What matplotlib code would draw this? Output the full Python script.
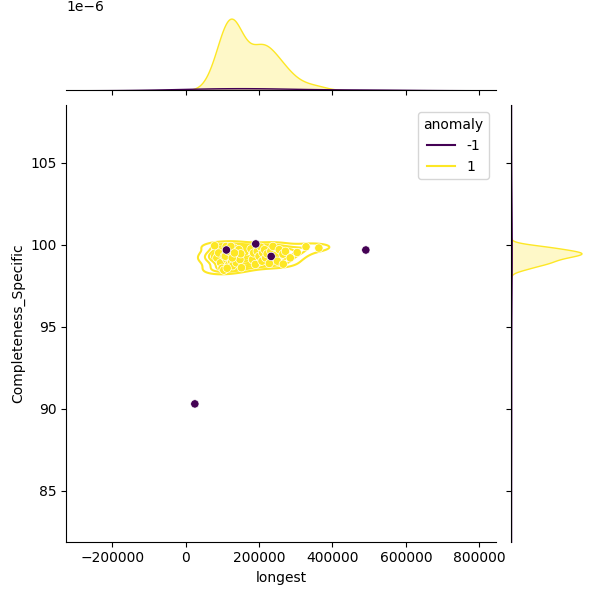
import matplotlib
matplotlib.use("Agg")
import matplotlib.pyplot as plt
import seaborn as sns
import pandas as pd
import numpy as np

normal_x = [79, 85, 90, 95, 99, 104, 105, 110, 112, 115, 118, 120, 122, 125, 128, 130,
            132, 135, 138, 140, 142, 145, 148, 150, 152, 108, 113, 117, 123, 127, 133,
            200, 212, 178, 182, 185, 190, 195, 200, 205, 208, 210, 215, 218, 222, 228,
            232, 238, 245, 250, 255, 265, 266, 272, 285, 304, 328, 363]
normal_y = [99.94, 99.2, 99.5, 98.9, 98.57, 98.45, 99.3, 99.9, 99.1, 99.45, 98.8, 99.6,
            99.35, 99.0, 98.72, 99.5, 99.8, 99.25, 98.9, 99.55, 99.4, 99.7, 99.1, 99.45,
            98.6, 99.3, 98.57, 99.6, 99.9, 99.2, 99.5, 98.95, 99.35, 99.75, 99.1, 99.5,
            98.8, 99.6, 99.3, 99.85, 99.0, 99.5, 99.7, 99.2, 99.45, 98.86, 99.6, 99.9,
            99.35, 99.0, 99.7, 99.43, 98.82, 99.6, 99.2, 99.53, 99.88, 99.8]
anom_x = [25, 111, 191, 233, 491]
anom_y = [90.3, 99.68, 100.05, 99.29, 99.68]

longest = [v * 1000 for v in normal_x + anom_x]
completeness = normal_y + anom_y
anomaly = [1] * len(normal_x) + [-1] * len(anom_x)

df = pd.DataFrame({"longest": longest,
                   "Completeness_Specific": completeness,
                   "anomaly": anomaly})

g = sns.jointplot(data=df, x="longest", y="Completeness_Specific", hue="anomaly",
                  kind="kde", palette="viridis", height=6,
                  marginal_kws=dict(fill=True))
g.plot_joint(sns.scatterplot, legend=False, zorder=3)
g.ax_joint.set_xlim(-325000, 846000)
g.ax_joint.set_ylim(81.9, 108.5)
g.figure.savefig("out.png", dpi=100)
